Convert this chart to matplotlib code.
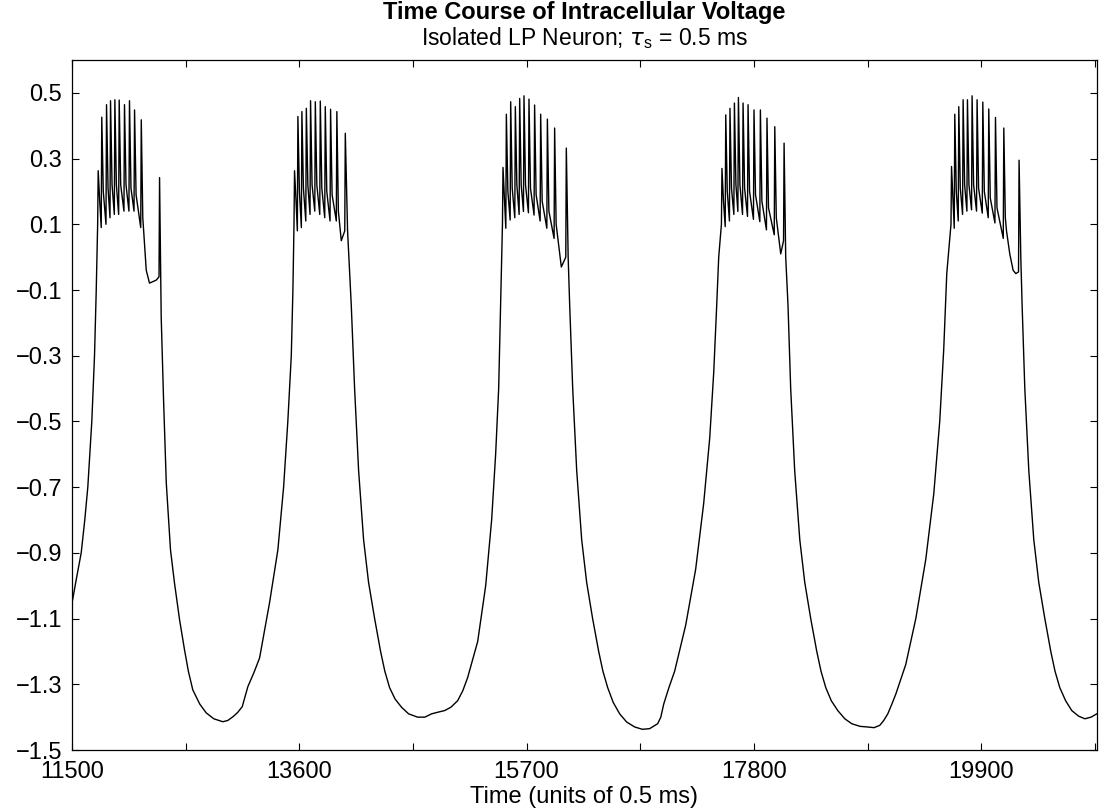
import matplotlib
matplotlib.use("Agg")
import matplotlib.pyplot as plt
from matplotlib.ticker import FixedLocator, FixedFormatter

plt.rcParams['font.family'] = ['Liberation Sans', 'DejaVu Sans']

# ---------------- data ----------------
# burst spikes: times, peak voltages, trough before each spike, after-spike hump
b1_t = [11742, 11775, 11819, 11856, 11896, 11936, 11985, 12031, 12078, 12140, 12309]
b1_peak = [0.263, 0.426, 0.464, 0.476, 0.479, 0.478, 0.464, 0.476, 0.448, 0.418, 0.242]
b1_pre = [0.10, 0.09, 0.10, 0.12, 0.13, 0.13, 0.14, 0.14, 0.14, 0.09, -0.06]
b1_hump = [0.17, 0.20, 0.21, 0.22, 0.22, 0.22, 0.22, 0.21, 0.19, 0.12]

b2_t = [13556, 13587, 13624, 13665, 13704, 13748, 13794, 13840, 13889, 13947, 14025]
b2_peak = [0.263, 0.428, 0.443, 0.453, 0.476, 0.473, 0.475, 0.458, 0.450, 0.443, 0.377]
b2_pre = [0.10, 0.08, 0.09, 0.11, 0.13, 0.14, 0.13, 0.12, 0.11, 0.11, 0.08]
b2_hump = [0.17, 0.20, 0.21, 0.22, 0.22, 0.22, 0.21, 0.20, 0.19, 0.14]

b3_t = [15482, 15513, 15553, 15596, 15636, 15676, 15722, 15774, 15830, 15892, 15959, 16067]
b3_peak = [0.273, 0.435, 0.473, 0.458, 0.483, 0.491, 0.481, 0.463, 0.435, 0.420, 0.393, 0.332]
b3_pre = [0.10, 0.088, 0.113, 0.12, 0.13, 0.139, 0.135, 0.128, 0.11, 0.088, 0.057, 0.0]
b3_hump = [0.17, 0.20, 0.21, 0.22, 0.22, 0.22, 0.21, 0.19, 0.17, 0.14, 0.10]

b4_t = [17505, 17540, 17579, 17620, 17657, 17700, 17746, 17801, 17860, 17921, 17993, 18079]
b4_peak = [0.270, 0.433, 0.453, 0.469, 0.486, 0.469, 0.464, 0.448, 0.448, 0.423, 0.397, 0.347]
b4_pre = [0.10, 0.093, 0.11, 0.13, 0.139, 0.13, 0.124, 0.115, 0.108, 0.083, 0.068, 0.05]
b4_hump = [0.17, 0.20, 0.21, 0.22, 0.22, 0.21, 0.20, 0.19, 0.17, 0.15, 0.12]

b5_t = [19626, 19656, 19693, 19733, 19773, 19816, 19862, 19915, 19970, 20032, 20109, 20250]
b5_peak = [0.276, 0.435, 0.458, 0.479, 0.479, 0.491, 0.479, 0.472, 0.451, 0.425, 0.393, 0.295]
b5_pre = [0.10, 0.088, 0.11, 0.13, 0.14, 0.144, 0.14, 0.134, 0.12, 0.104, 0.057, -0.045]
b5_hump = [0.17, 0.20, 0.21, 0.22, 0.22, 0.22, 0.21, 0.20, 0.18, 0.15, 0.12]

# slow wave between bursts (time, voltage)
slow0_t = [11500, 11540, 11585, 11618, 11646, 11683, 11708, 11724]
slow0_v = [-1.053, -0.98, -0.90, -0.80, -0.70, -0.50, -0.30, -0.10]

slow1_t = [12186, 12216, 12278, 12324, 12346, 12371, 12410, 12447, 12494, 12540,
           12575, 12616, 12680, 12740, 12810, 12894, 12940, 12986, 13030, 13073,
           13125, 13180, 13233, 13325, 13402, 13455, 13494, 13526, 13541]
slow1_v = [-0.04, -0.079, -0.07, -0.181, -0.435, -0.687, -0.891, -0.992, -1.104, -1.196,
           -1.26, -1.317, -1.36, -1.387, -1.405, -1.414, -1.41, -1.399, -1.386, -1.368,
           -1.307, -1.265, -1.22, -1.052, -0.891, -0.70, -0.50, -0.30, -0.10]

slow2_t = [13988, 14046, 14080, 14111, 14148, 14194, 14240, 14296, 14351, 14390,
           14434, 14485, 14545, 14610, 14693, 14760, 14822, 14880, 14943, 15000,
           15063, 15110, 15155, 15248, 15322, 15377, 15414, 15442, 15460]
slow2_v = [0.05, 0.08, -0.145, -0.40, -0.65, -0.86, -0.99, -1.10, -1.20, -1.26,
           -1.31, -1.345, -1.37, -1.39, -1.40, -1.40, -1.39, -1.385, -1.38, -1.37,
           -1.35, -1.32, -1.28, -1.17, -1.00, -0.80, -0.60, -0.40, -0.15]

slow3_t = [16021, 16084, 16098, 16126, 16163, 16209, 16255, 16310, 16366, 16405,
           16449, 16500, 16560, 16625, 16699, 16770, 16837, 16911, 16940, 16967,
           17015, 17068, 17170, 17262, 17336, 17392, 17429, 17456, 17475]
slow3_v = [-0.03, 0.0, -0.145, -0.40, -0.65, -0.86, -0.99, -1.10, -1.20, -1.26,
           -1.31, -1.355, -1.39, -1.415, -1.43, -1.437, -1.435, -1.42, -1.40, -1.36,
           -1.31, -1.26, -1.12, -0.95, -0.75, -0.55, -0.35, -0.15, 0.0]

slow4_t = [18048, 18094, 18115, 18140, 18177, 18224, 18270, 18325, 18381, 18420,
           18464, 18515, 18575, 18640, 18704, 18780, 18852, 18910, 18963, 19000,
           19037, 19075, 19111, 19203, 19296, 19388, 19462, 19517, 19554, 19582]
slow4_v = [0.01, 0.0, -0.145, -0.40, -0.65, -0.86, -0.99, -1.10, -1.20, -1.26,
           -1.31, -1.35, -1.38, -1.405, -1.42, -1.428, -1.43, -1.432, -1.425, -1.41,
           -1.39, -1.36, -1.33, -1.24, -1.10, -0.92, -0.72, -0.50, -0.28, -0.05]

slow5_t = [20134, 20164, 20195, 20220, 20266, 20278, 20303, 20340, 20386, 20432,
           20488, 20543, 20582, 20626, 20680, 20737, 20800, 20858, 20915, 20968]
slow5_v = [0.08, 0.01, -0.04, -0.05, 0.0, -0.145, -0.40, -0.65, -0.86, -0.99,
           -1.10, -1.20, -1.26, -1.31, -1.35, -1.38, -1.397, -1.405, -1.40, -1.39]

xtick_values = [11500, 12550, 13600, 14650, 15700, 16750, 17800, 18850, 19900, 20950]
xtick_labels = ['11500', '', '13600', '', '15700', '', '17800', '', '19900', '']
ytick_values = [-1.5, -1.3, -1.1, -0.9, -0.7, -0.5, -0.3, -0.1, 0.1, 0.3, 0.5]

title_text = 'Time Course of Intracellular Voltage'
subtitle_text = r'Isolated LP Neuron; $\tau_\mathregular{s}$ = 0.5 ms'
xlabel_text = 'Time (units of 0.5 ms)'

# ---------------- build the trace vertices ----------------
pts = []
for t, pk, pre, hump in [(b1_t, b1_peak, b1_pre, b1_hump), (b2_t, b2_peak, b2_pre, b2_hump),
                         (b3_t, b3_peak, b3_pre, b3_hump), (b4_t, b4_peak, b4_pre, b4_hump),
                         (b5_t, b5_peak, b5_pre, b5_hump)]:
    for i in range(len(t)):
        pts.append((t[i] - 5, pre[i]))
        pts.append((t[i], pk[i]))
        if i < len(hump):
            pts.append((t[i] + 14, hump[i]))
for st, sv in [(slow0_t, slow0_v), (slow1_t, slow1_v), (slow2_t, slow2_v),
               (slow3_t, slow3_v), (slow4_t, slow4_v), (slow5_t, slow5_v)]:
    pts.extend(zip(st, sv))
pts.sort(key=lambda p: p[0])
trace_t = [p[0] for p in pts]
trace_v = [p[1] for p in pts]

# ---------------- figure ----------------
fig = plt.figure(figsize=(11, 8.09), dpi=100)
ax = fig.add_axes([72 / 1100, 1 - 750 / 809, (1097 - 72) / 1100, 690 / 809])
ax.plot(trace_t, trace_v, color='black', lw=1.0)

ax.set_xlim(11500, 20970)
ax.set_ylim(-1.5, 0.6)
ax.xaxis.set_major_locator(FixedLocator(xtick_values))
ax.xaxis.set_major_formatter(FixedFormatter(xtick_labels))
ax.yaxis.set_major_locator(FixedLocator(ytick_values))
ax.set_yticklabels([f'{v:.1f}'.replace('-', '\u2212') for v in ytick_values])
ax.tick_params(direction='in', length=5, width=0.8, top=True, right=True,
               labelsize=17, colors='black')
ax.tick_params(axis='x', pad=8)
ax.tick_params(axis='y', pad=7)
for s in ax.spines.values():
    s.set_linewidth(0.9)

fig.text(584 / 1100, 1 - 13 / 809, title_text, ha='center', va='center',
         fontsize=17, fontweight='bold')
fig.text(584 / 1100, 1 - 38 / 809, subtitle_text, ha='center', va='center',
         fontsize=16.5)
fig.text(584 / 1100, 1 - 797 / 809, xlabel_text, ha='center', va='center',
         fontsize=17)

fig.savefig('out.png', dpi=100)
